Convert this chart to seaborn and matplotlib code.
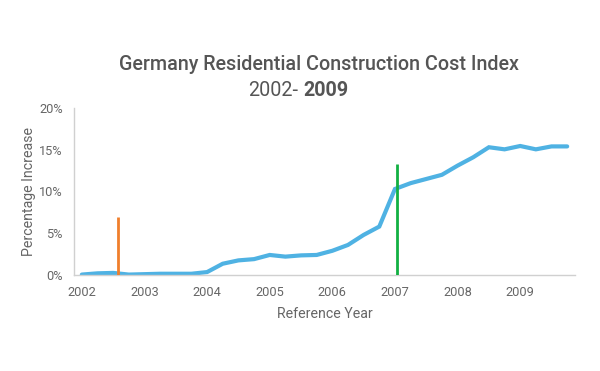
import matplotlib
matplotlib.use("Agg")
import matplotlib.pyplot as plt
import seaborn as sns
import pandas as pd
import numpy as np

# ---- data ----
quarters = [f"{y}Q{q}" for y in range(2002, 2010) for q in range(1, 5)]
pct_increase = [0.05, 0.2, 0.25, 0.05,
                0.1, 0.15, 0.15, 0.15,
                0.35, 1.35, 1.75, 1.9,
                2.4, 2.2, 2.35, 2.4,
                2.9, 3.6, 4.8, 5.8,
                10.3, 11.0, 11.5, 12.0,
                13.1, 14.1, 15.3, 15.05,
                15.45, 15.05, 15.4, 15.4]
year_labels = ["2002", "2003", "2004", "2005", "2006", "2007", "2008", "2009"]
marker_pos = [2.3, 20.1]      # position on quarter index axis
marker_height = [6.9, 13.3]
marker_colors = ["#F07F2C", "#12B042"]
y_ticks = [0, 5, 10, 15, 20]

df = pd.DataFrame({"idx": np.arange(len(quarters)), "quarter": quarters,
                   "value": pct_increase})

sns.set_theme(style="white")
plt.rcParams["font.family"] = ["Roboto", "DejaVu Sans"]

fig = plt.figure(figsize=(6, 3.71), dpi=100)
ax = fig.add_axes([74/600, 1-275/371, (575-74)/600, (275-108)/371])

sns.lineplot(data=df, x="idx", y="value", ax=ax, color="#4FB2E3",
             linewidth=3.0, solid_joinstyle="miter")

ax.vlines(marker_pos, 0, marker_height, colors=marker_colors, linewidth=2.0, zorder=3)

ax.set_xlim(-0.5, len(quarters) - 0.5)
ax.set_ylim(0, 20)
ax.set_yticks(y_ticks)
ax.set_yticklabels([f"{t}%" for t in y_ticks])
ax.set_xticks(np.arange(0, len(quarters), 4))
ax.set_xticklabels(year_labels)
ax.set_xticks(np.arange(-0.5, len(quarters), 1), minor=True)

grey = "#666666"
ax.tick_params(axis="x", which="major", length=0, pad=8, labelsize=9.2, labelcolor=grey)
ax.tick_params(axis="x", which="minor", length=4, width=0.8, color="#d0d0d0", direction="out")
ax.tick_params(axis="y", which="major", length=0, pad=8, labelsize=9.2, labelcolor=grey)

for s in ["top", "right"]:
    ax.spines[s].set_visible(False)
for s in ["left", "bottom"]:
    ax.spines[s].set_color("#d0d0d0")
    ax.spines[s].set_linewidth(1.0)

ax.set_xlabel("Reference Year", fontsize=10.2, color=grey, labelpad=6)
ax.set_ylabel("Percentage Increase", fontsize=10.2, color=grey, labelpad=2)

fig.text(319/600, 1-65/371, "Germany Residential Construction Cost Index",
         ha="center", va="center", fontsize=14.2, color="#555555", fontweight="medium")
fig.text(298/600, 1-90/371, "2002-", ha="right", va="center",
         fontsize=14.2, color="#555555")
fig.text(303/600, 1-90/371, "2009", ha="left", va="center",
         fontsize=14.2, color="#555555", fontweight="bold")

fig.savefig("out.png", dpi=100)
